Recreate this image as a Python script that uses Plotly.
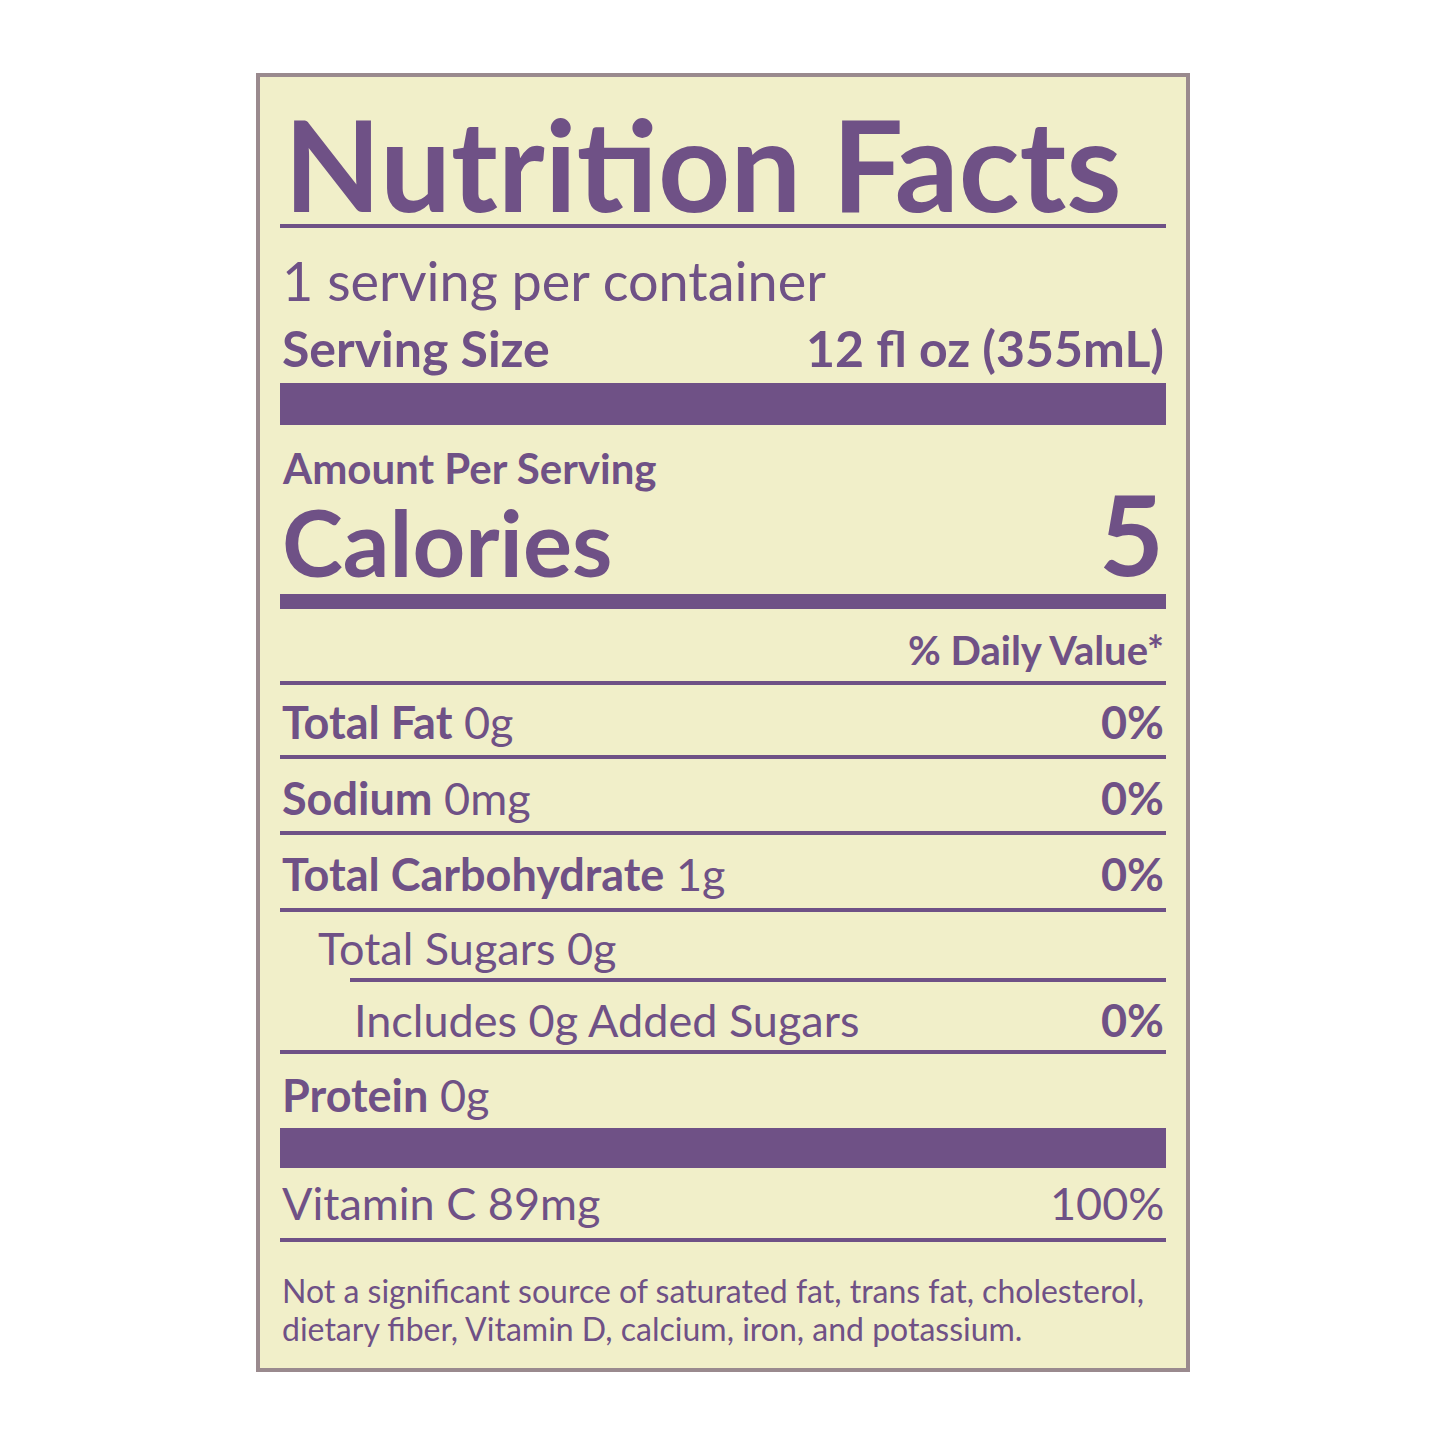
import plotly.graph_objects as go

title = "Nutrition Facts"
servings = "1 serving per container"
serving_label = "Serving Size"
serving_value = "12 fl oz (355mL)"
calories = "5"
nutrients = ["Total Fat", "Sodium", "Total Carbohydrate", "Total Sugars", "Includes 0g Added Sugars", "Protein", "Vitamin C"]
amounts = ["0g", "0mg", "1g", "0g", "", "0g", "89mg"]
bold_name = [True, True, True, False, False, True, False]
indent = [0, 0, 0, 1, 2, 0, 0]
dv = ["0%", "0%", "0%", "", "0%", "", "100%"]
footnote = ["Not a significant source of saturated fat, trans fat, cholesterol,",
            "dietary fiber, Vitamin D, calcium, iron, and potassium."]

C = "#6f5186"
BG = "#f1efc9"
L, R = 280, 1166
F = "Lato"

fig = go.Figure()
shapes = []
ann = []
shapes.append(dict(type="rect", x0=258, x1=1188, y0=75, y1=1370, fillcolor=BG,
                   line=dict(color="#9a8a8e", width=4), layer="below"))
def hline(y, w, x0=L):
    shapes.append(dict(type="line", x0=x0, x1=R, y0=y, y1=y, line=dict(color=C, width=w)))
def bar(y0, y1):
    shapes.append(dict(type="rect", x0=L, x1=R, y0=y0, y1=y1, fillcolor=C, line=dict(width=0)))
def text(x, y, s, size, anchor="left", bold=False):
    ann.append(dict(x=x, y=y, text=f"<b>{s}</b>" if bold else s, showarrow=False,
                    xanchor=anchor, yanchor="middle", font=dict(family=F, size=size, color=C)))

text(L+2, 163, title, 126, bold=True)
hline(226, 4)
text(L, 280, servings, 54)
text(L, 348, serving_label, 50, bold=True)
text(R, 348, serving_value, 50, "right", bold=True)
bar(383, 425)
text(L, 468, "Amount Per Serving", 42, bold=True)
text(L, 541, "Calories", 92, bold=True)
text(R, 532, calories, 112, "right", bold=True)
bar(594, 609)
text(R, 650, "% Daily Value*", 40, "right", bold=True)
hline(683, 4)

row_y = [722, 798, 874, 948, 1020, 1095, 1203]
line_y = [757, 833, 910, 980, 1052, None, 1240]
line_x0 = [L, L, L, 350, L, L, L]
for i, n in enumerate(nutrients):
    x = L + [0, 36, 72][indent[i]]
    name = f"<b>{n}</b>" if bold_name[i] else n
    text(x, row_y[i], name + (" " + amounts[i] if amounts[i] else ""), 45)
    if dv[i]:
        text(R, row_y[i], dv[i], 45, "right", bold=bold_name[i] or indent[i] == 2)
    if line_y[i]:
        hline(line_y[i], 4, line_x0[i])
bar(1128, 1168)
text(L, 1290, footnote[0], 32)
text(L, 1328, footnote[1], 32)

fig.update_layout(width=1445, height=1445, margin=dict(l=0, r=0, t=0, b=0),
                  paper_bgcolor="white", plot_bgcolor="white",
                  shapes=shapes, annotations=ann, showlegend=False,
                  xaxis=dict(range=[8, 1453], visible=False),
                  yaxis=dict(range=[1453, 8], visible=False))
fig.write_html("out.html")
